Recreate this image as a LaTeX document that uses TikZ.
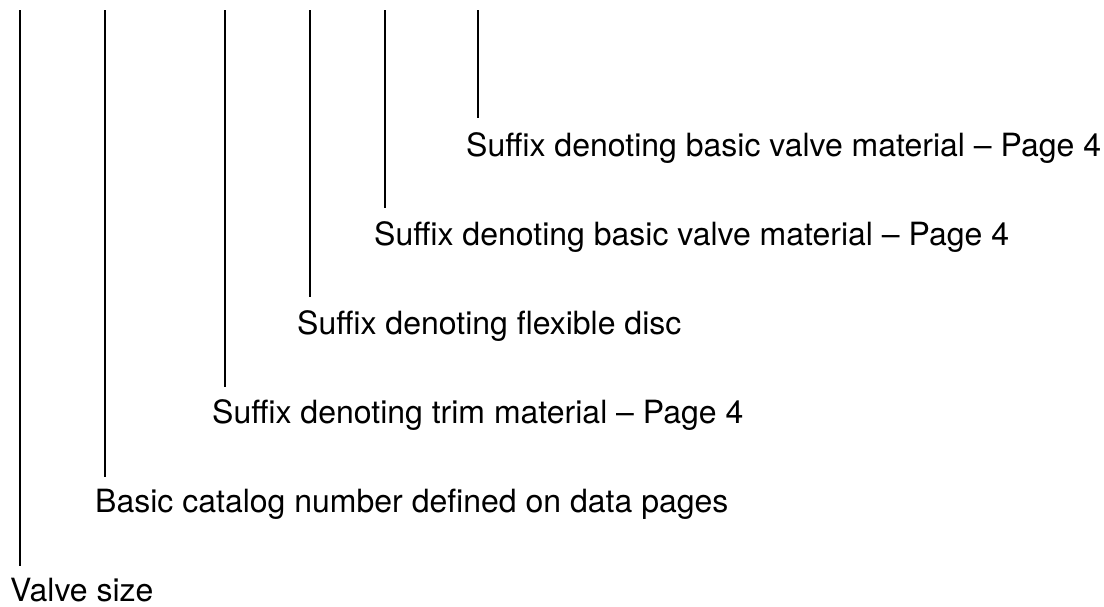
\documentclass[tikz,border=0pt]{standalone}
\usepackage{fontspec}
\setmainfont{TeX Gyre Heros}
\begin{document}
\begin{tikzpicture}[x=1pt,y=-1pt,
  leader/.style={line width=2.8pt},
  callout/.style={anchor=base west,inner sep=0pt,font=\fontsize{32}{38}\selectfont}]
\useasboundingbox (0,0) rectangle (1104,606);
% vertical leaders: top ends on a common line, bottom ends above each caption
\foreach \n/\x/\yb in {1/20/566, 2/105/477, 3/225/387, 4/310/297, 5/385/208, 6/478/118}{
  \coordinate (t\n) at (\x,10);
  \coordinate (b\n) at (\x,\yb);
}
\node[callout] (l1) at (10,601) {Valve size};
\node[callout] (l2) at (95,512) {Basic catalog number defined on data pages};
\node[callout] (l3) at (212,423) {Suffix denoting trim material – Page 4};
\node[callout] (l4) at (297,334) {Suffix denoting flexible disc};
\node[callout] (l5) at (374,245) {Suffix denoting basic valve material – Page 4};
\node[callout] (l6) at (466,156) {Suffix denoting basic valve material – Page 4};
\foreach \n in {1,...,6}{
  \draw[leader] (t\n) -- (b\n);
}
\end{tikzpicture}
\end{document}
